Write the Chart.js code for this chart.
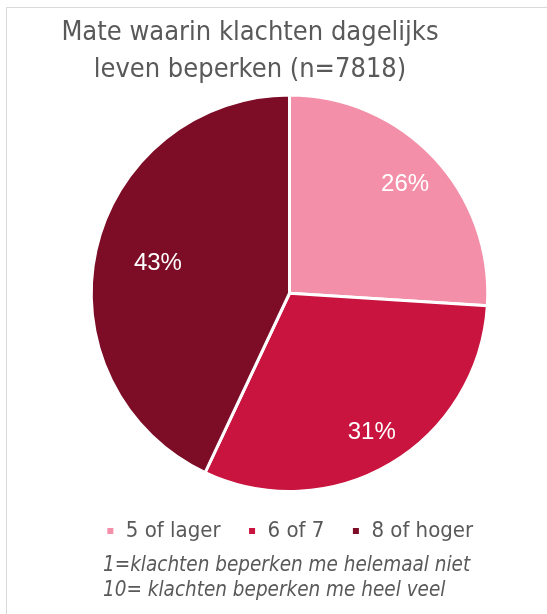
<!DOCTYPE html>
<html>
<head>
<meta charset="utf-8">
<script src="https://cdn.jsdelivr.net/npm/chart.js@4.4.1/dist/chart.umd.min.js"></script>
<style>
  html, body { margin: 0; padding: 0; background: #fff; overflow: hidden; }
  #wrap { position: relative; width: 547px; height: 614px; overflow: hidden; }
  #frame { position: absolute; left: 6px; top: 7px; width: 700px; height: 800px; border: 1px solid #d9d9d9; box-sizing: border-box; }
  #c { position: absolute; left: 0; top: 0; }
  #title { position: absolute; left: 0; width: 500px; top: 13px; text-align: center;
           font-family: "DejaVu Sans Condensed", "DejaVu Sans", sans-serif; font-stretch: condensed;
           font-size: 27px; line-height: 36.5px; color: #595959; }
  #notes { position: absolute; left: 103px; top: 552px; font-style: italic;
           font-family: "DejaVu Sans Condensed", "DejaVu Sans", sans-serif; font-stretch: condensed;
           font-size: 20.5px; line-height: 25px; color: #595959; white-space: nowrap; }
</style>
</head>
<body>
<div id="wrap">
  <div id="frame"></div>
  <canvas id="c" width="547" height="614"></canvas>
  <div id="title"></div>
  <div id="notes"></div>
</div>
<script>
const titleLines = ["Mate waarin klachten dagelijks", "leven beperken (n=7818)"];
const categories = ["5 of lager", "6 of 7", "8 of hoger"];
const values = [26, 31, 43];
const noteLines = ["1=klachten beperken me helemaal niet", "10= klachten beperken me heel veel"];
const colors = ["#F38FA8", "#C8143F", "#7D0C26"];

document.getElementById('title').innerHTML = titleLines.join('<br>');
document.getElementById('notes').innerHTML = noteLines.join('<br>');

const pctLabels = {
  id: 'pctLabels',
  afterDatasetsDraw(chart, args, opts) {
    const ctx = chart.ctx;
    const meta = chart.getDatasetMeta(0);
    const data = chart.data.datasets[0].data;
    const total = data.reduce((a, b) => a + b, 0);
    ctx.save();
    ctx.fillStyle = '#ffffff';
    ctx.font = '24px "Liberation Sans", Arial, sans-serif';
    ctx.textAlign = 'center';
    ctx.textBaseline = 'middle';
    meta.data.forEach((arc, i) => {
      const p = arc.getProps(['x', 'y', 'startAngle', 'endAngle', 'outerRadius'], true);
      const mid = (p.startAngle + p.endAngle) / 2;
      const f = opts.radiusFactors[i];
      const x = p.x + Math.cos(mid) * p.outerRadius * f;
      const y = p.y + Math.sin(mid) * p.outerRadius * f;
      ctx.fillText(Math.round(data[i] / total * 100) + '%', x, y);
    });
    ctx.restore();
  }
};

new Chart(document.getElementById('c'), {
  type: 'pie',
  data: {
    labels: categories,
    datasets: [{
      data: values,
      backgroundColor: colors,
      borderColor: '#ffffff',
      borderWidth: 3,
      hoverOffset: 0
    }]
  },
  options: {
    responsive: false,
    animation: false,
    layout: { padding: { left: 32, right: 0, top: 93.5, bottom: 62 } },
    plugins: {
      title: { display: false },
      tooltip: { enabled: false },
      legend: {
        position: 'bottom',
        labels: {
          boxWidth: 9,
          boxHeight: 9,
          padding: 27,
          color: '#595959',
          font: { size: 22, family: '"DejaVu Sans Condensed", "DejaVu Sans", sans-serif' }
        }
      },
      pctLabels: { radiusFactors: [0.8, 0.815, 0.68] }
    }
  },
  plugins: [pctLabels]
});
</script>
</body>
</html>
